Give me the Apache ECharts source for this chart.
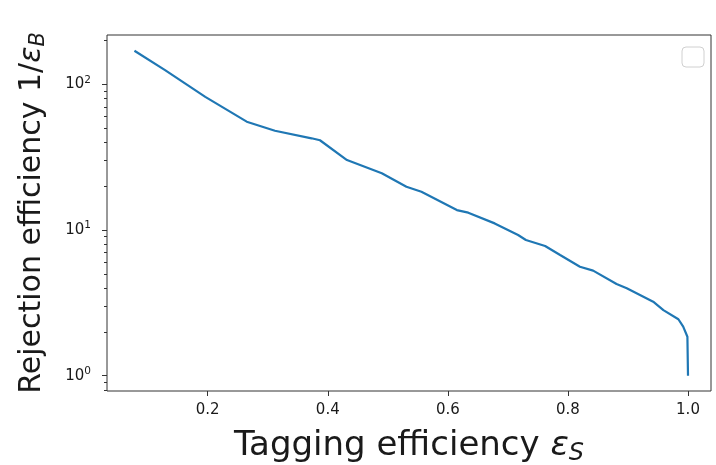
<!DOCTYPE html>
<html>
<head>
<meta charset="utf-8">
<script src="https://cdn.jsdelivr.net/npm/echarts@6/dist/echarts.min.js"></script>
<style>
  html, body { margin: 0; padding: 0; background: #fff; }
  #chart { width: 716px; height: 465px; }
</style>
</head>
<body>
<div id="chart"></div>
<script>
// ROC-style curve: signal tagging efficiency vs. background rejection (log scale)
const signalEff = [0.078, 0.129, 0.196, 0.265, 0.312, 0.373, 0.387, 0.432, 0.490, 0.531,
                   0.556, 0.615, 0.634, 0.678, 0.717, 0.730, 0.762, 0.787, 0.820, 0.842,
                   0.881, 0.898, 0.942, 0.959, 0.984, 0.992, 0.999, 1.0];
const rejection = [170, 125, 82, 55.4, 48.0, 42.6, 41.3, 30.2, 24.5, 19.8,
                   18.3, 13.7, 13.15, 11.1, 9.24, 8.54, 7.77, 6.73, 5.60, 5.26,
                   4.26, 3.98, 3.22, 2.82, 2.44, 2.17, 1.85, 1.0];

// Axis tick positions
const xTicks = [0.2, 0.4, 0.6, 0.8, 1.0];
const yMajorTicks = [1, 10, 100];
const yMinorTicks = [0.8, 0.9, 2, 3, 4, 5, 6, 7, 8, 9, 20, 30, 40, 50, 60, 70, 80, 90, 200];

const FONT = 'DejaVu Sans';
const INK = '#1a1a1a';
const xRange = [0.0323, 1.0383];
const yRange = [0.785, 218];

const chart = echarts.init(document.getElementById('chart'), null, { renderer: 'canvas' });

const yAxisBase = {
  type: 'log',
  logBase: 10,
  min: yRange[0],
  max: yRange[1],
  splitLine: { show: false },
  axisLine: { show: false }
};

chart.setOption({
  animation: false,
  backgroundColor: '#fff',
  grid: {
    left: 107, right: 5, top: 35, bottom: 74,
    outerBoundsMode: 'none',
    containLabel: false,
    show: true, borderColor: '#333', borderWidth: 1, backgroundColor: 'transparent'
  },
  xAxis: {
    type: 'value',
    min: xRange[0],
    max: xRange[1],
    splitLine: { show: false },
    axisLine: { show: false },
    axisTick: { show: true, length: 5, lineStyle: { color: '#333' }, customValues: xTicks },
    axisLabel: {
      customValues: xTicks,
      color: INK, fontFamily: FONT, fontSize: 15, margin: 12,
      formatter: v => v.toFixed(1)
    },
    name: '{t|Tagging efficiency }{e|ε}{s|S}',
    nameLocation: 'middle',
    nameGap: 34,
    nameTextStyle: {
      color: INK, fontFamily: FONT, fontSize: 34,
      rich: {
        t: { fontFamily: FONT, fontSize: 34, color: INK, lineHeight: 42 },
        e: { fontFamily: FONT, fontSize: 34, fontStyle: 'italic', color: INK, lineHeight: 42 },
        s: { fontFamily: FONT, fontSize: 24, fontStyle: 'italic', color: INK, lineHeight: 42, padding: [15, 0, 0, 0] }
      }
    }
  },
  yAxis: [
    Object.assign({}, yAxisBase, {
      axisTick: { show: true, length: 5, lineStyle: { color: '#333' }, customValues: yMajorTicks },
      axisLabel: {
        customValues: yMajorTicks,
        color: INK, fontFamily: FONT, margin: 16,
        formatter: v => '{b|10}{p|' + Math.round(Math.log10(v)) + '}',
        rich: {
          b: { fontFamily: FONT, fontSize: 15, color: INK },
          p: { fontFamily: FONT, fontSize: 10.5, color: INK, padding: [0, 0, 9, 0] }
        }
      },
      name: '{t|Rejection efficiency 1/}{e|ε}{s|B}',
      nameLocation: 'middle',
      nameGap: 55,
      nameTextStyle: {
        color: INK, fontFamily: FONT, fontSize: 30,
        rich: {
          t: { fontFamily: FONT, fontSize: 30, color: INK, lineHeight: 40 },
          e: { fontFamily: FONT, fontSize: 30, fontStyle: 'italic', color: INK, lineHeight: 40 },
          s: { fontFamily: FONT, fontSize: 21, fontStyle: 'italic', color: INK, lineHeight: 40, padding: [14, 0, 0, 0] }
        }
      }
    }),
    Object.assign({}, yAxisBase, {
      position: 'left',
      axisTick: { show: true, length: 3, lineStyle: { color: '#333' }, customValues: yMinorTicks },
      axisLabel: { show: false }
    })
  ],
  series: [{
    type: 'line',
    xAxisIndex: 0,
    yAxisIndex: 0,
    data: signalEff.map((x, i) => [x, rejection[i]]),
    showSymbol: false,
    smooth: false,
    lineStyle: { color: '#1f77b4', width: 2.2 },
    itemStyle: { color: '#1f77b4' }
  }],
  graphic: [{
    // empty legend frame in the upper-right corner
    type: 'rect',
    shape: { x: 682, y: 47, width: 22, height: 20, r: 4 },
    style: { fill: '#fff', stroke: '#d0d0d0', lineWidth: 1 }
  }]
});
</script>
</body>
</html>
